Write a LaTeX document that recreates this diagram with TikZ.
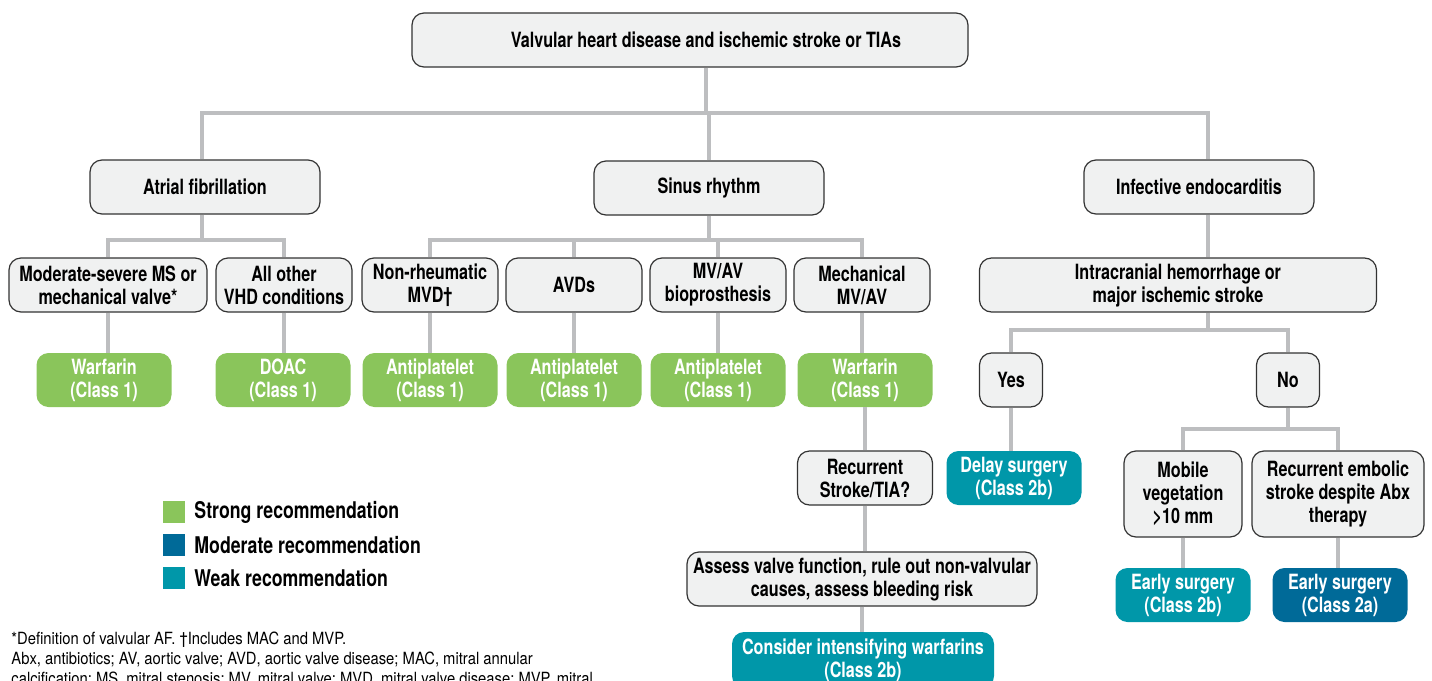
\documentclass[tikz,border=0pt]{standalone}
\usepackage{fontspec}
\setmainfont{TeX Gyre Heros}[FakeStretch=0.77]
\newfontfamily\footfont{TeX Gyre Heros}[FakeStretch=0.88]
\usepackage{xcolor}
\usetikzlibrary{positioning}

\definecolor{boxgray}{HTML}{F0F1F1}
\definecolor{linegray}{HTML}{BDBEC0}
\definecolor{stronggreen}{HTML}{8AC55B}
\definecolor{modblue}{HTML}{006A98}
\definecolor{weakteal}{HTML}{0097A9}

\tikzset{
  box/.style={draw=black!80, fill=boxgray, rounded corners=6pt, line width=0.6pt,
    align=center, minimum height=27pt, inner sep=1pt},
  rec/.style={rounded corners=6pt, text=white, align=center,
    minimum height=27pt, minimum width=67.5pt, inner sep=1pt},
  strongrec/.style={rec, fill=stronggreen},
  modrec/.style={rec, fill=modblue},
  weakrec/.style={rec, fill=weakteal},
  conn/.style={draw=linegray, line width=2pt},
  legsq/.style={minimum size=11pt, inner sep=0pt},
  legtext/.style={right=1pt of #1, font=\fontsize{11.5}{13}\selectfont\bfseries}
}

\begin{document}
\begin{tikzpicture}[x=0.5pt,y=-0.5pt, font=\fontsize{10.5}{11.5}\selectfont\bfseries]
\useasboundingbox (0,0) rectangle (1432,681);

% top level
\node[box, minimum width=278pt] (top) at (690,40) {\hspace*{16pt}Valvular heart disease and ischemic stroke or TIAs};
\node[box, minimum width=115pt] (af) at (205,187) {Atrial fibrillation};
\node[box, minimum width=115pt] (sr) at (709,188) {Sinus rhythm};
\node[box, minimum width=115pt] (ie) at (1199,187) {Infective endocarditis};

% second level
\node[box, minimum width=99pt] (ms) at (108,285) {Moderate-severe MS or\\mechanical valve*};
\node[box, minimum width=68pt] (vhd) at (284,285) {All other\\VHD conditions};
\node[box, minimum width=68pt] (nmvd) at (430,285) {Non-rheumatic\\MVD\textdagger};
\node[box, minimum width=68pt] (avd) at (574,285) {AVDs};
\node[box, minimum width=68pt] (bio) at (718,285) {MV/AV\\bioprosthesis};
\node[box, minimum width=68pt] (mech) at (862,285) {Mechanical\\MV/AV};
\node[box, minimum width=198.5pt] (ich) at (1178,285) {Intracranial hemorrhage or\\major ischemic stroke};

% recommendations
\node[strongrec] (warf1) at (104,380) {Warfarin\\(Class 1)};
\node[strongrec] (doac) at (283,380) {DOAC\\(Class 1)};
\node[strongrec] (anti1) at (430,380) {Antiplatelet\\(Class 1)};
\node[strongrec] (anti2) at (574,380) {Antiplatelet\\(Class 1)};
\node[strongrec] (anti3) at (718,380) {Antiplatelet\\(Class 1)};
\node[strongrec] (warf2) at (865,380) {Warfarin\\(Class 1)};

\node[box, minimum width=31.5pt] (yes) at (1011,380) {Yes};
\node[box, minimum width=31.5pt] (no) at (1288,380) {No};

\node[box, minimum width=67.5pt] (recur) at (865,478) {Recurrent\\Stroke/TIA?};
\node[weakrec] (delay) at (1014,478) {Delay surgery\\(Class 2b)};
\node[box, minimum width=175pt] (assess) at (862,579) {Assess valve function, rule out non-valvular\\causes, assess bleeding risk};
\node[weakrec, minimum width=131pt, minimum height=28pt] (consider) at (863,660) {Consider intensifying warfarins\\(Class 2b)};

\node[box, minimum width=59pt, minimum height=43pt] (mob) at (1183,494) {Mobile\\vegetation\\>10 mm};
\node[box, minimum width=86pt, minimum height=43pt] (emb) at (1338,494) {Recurrent embolic\\stroke despite Abx\\therapy};
\node[weakrec] (early2b) at (1183,595) {Early surgery\\(Class 2b)};
\node[modrec] (early2a) at (1340,595) {Early surgery\\(Class 2a)};

% connectors
\coordinate (b0) at (706,113);
\coordinate (b1) at (202,240);
\coordinate (b2) at (709,240);
\coordinate (b4) at (1208,330);
\coordinate (b5) at (1288,429);

\draw[conn] (top.south -| b0) -- (b0);
\draw[conn] (af.north -| b1) |- (b0) -| (ie.north -| b4);
\draw[conn] (sr.north) -- (sr.north |- b0);

\draw[conn] (af.south -| b1) -- (b1);
\draw[conn] (ms.north) |- (b1) -| (vhd.north);
\draw[conn] (ms.south) -- (ms.south |- warf1.north);
\draw[conn] (vhd.south) -- (vhd.south |- doac.north);

\draw[conn] (sr.south) -- (b2);
\draw[conn] (nmvd.north) |- (b2) -| (mech.north);
\draw[conn] (avd.north) -- (avd.north |- b2);
\draw[conn] (bio.north) -- (bio.north |- b2);
\draw[conn] (nmvd.south) -- (nmvd.south |- anti1.north);
\draw[conn] (avd.south) -- (avd.south |- anti2.north);
\draw[conn] (bio.south) -- (bio.south |- anti3.north);
\draw[conn] (mech.south) -- (mech.south |- warf2.north);
\draw[conn] (warf2.south) -- (recur.north);
\draw[conn] (recur.south) -- (recur.south |- assess.north);
\draw[conn] (assess.south) -- (assess.south |- consider.north);

\draw[conn] (ie.south -| b4) -- (ich.north -| b4);
\draw[conn] (ich.south -| b4) -- (b4);
\draw[conn] (yes.north) |- (b4) -| (no.north);
\draw[conn] (yes.south) -- (yes.south |- delay.north);
\draw[conn] (no.south) -- (b5);
\draw[conn] (mob.north) |- (b5) -| (emb.north);
\draw[conn] (mob.south) -- (mob.south |- early2b.north);
\draw[conn] (emb.south) -- (emb.south |- early2a.north);

% legend
\node[legsq, fill=stronggreen] (lg1) at (174,512) {};
\node[legsq, fill=modblue] (lg2) at (174,545) {};
\node[legsq, fill=weakteal] (lg3) at (174,578) {};
\node[legtext=lg1] (lt1) {Strong recommendation};
\node[legtext=lg2] (lt2) {Moderate recommendation};
\node[legtext=lg3] (lt3) {Weak recommendation};

% footnote
\node[anchor=north west, align=left, inner sep=0pt, font=\footfont\fontsize{8.4}{10}\selectfont] (foot) at (11,632)
  {*Definition of valvular AF. \textdagger Includes MAC and MVP.\\
   Abx, antibiotics; AV, aortic valve; AVD, aortic valve disease; MAC, mitral annular\\
   calcification; MS, mitral stenosis; MV, mitral valve; MVD, mitral valve disease; MVP, mitral};
\end{tikzpicture}
\end{document}
